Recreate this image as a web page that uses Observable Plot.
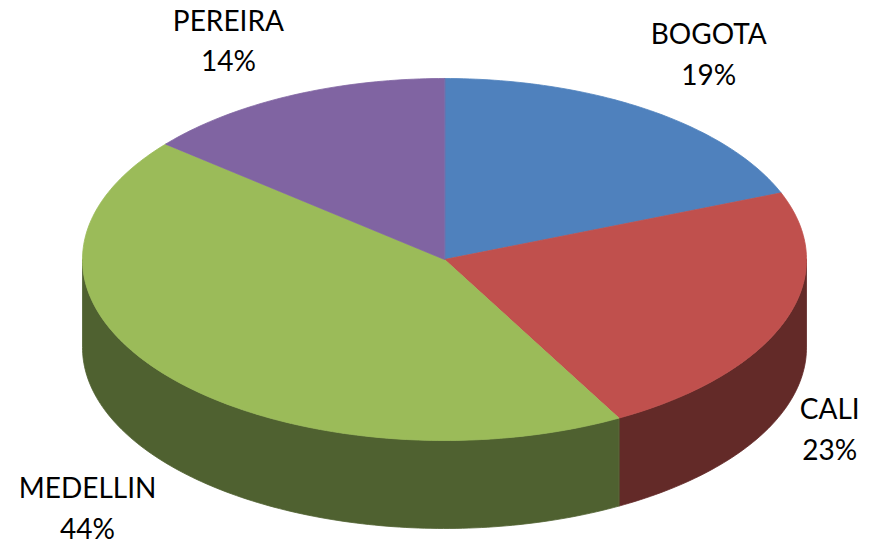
<!DOCTYPE html>
<html><head><meta charset="utf-8">
<script src="https://cdn.jsdelivr.net/npm/d3@7"></script>
<script src="https://cdn.jsdelivr.net/npm/@observablehq/plot@0.6"></script>
<style>body{margin:0;background:#fff}</style>
</head><body><div id="chart"></div>
<script>
// Data
const cities = ["BOGOTA", "CALI", "MEDELLIN", "PEREIRA"];
const shares = [19, 23, 44, 14];
const topColors = ["#4F81BD", "#C0504D", "#9BBB59", "#8064A2"];
const sideColors = ["#2C4D75", "#632A28", "#4F6130", "#4D3B62"];

// Layout (chart units: ellipse radius = 1 on each axis)
const labelU = [0.73, 1.064, -0.986, -0.597];
const labelV = [1.152, -0.92, -1.36, 1.224];

const W = 871, H = 545, CX = 444, CY = 259, RX = 362, RY = 181;
const DEPTH = 88 / RY;
const total = d3.sum(shares);
const rad = d => d * Math.PI / 180;

const topRows = [], sideRows = [];
let start = 0;
shares.forEach((s, i) => {
  const a0 = start, a1 = start + s / total * 360;
  start = a1;
  const key = cities[i];
  topRows.push({key, u: 0, v: 0, color: topColors[i]});
  const n = Math.max(2, Math.ceil(a1 - a0));
  for (let k = 0; k <= n; k++) {
    const t = rad(a0 + (a1 - a0) * k / n);
    topRows.push({key, u: Math.sin(t), v: Math.cos(t), color: topColors[i]});
  }
  // visible side wall: between 90° and 270°
  const b0 = Math.max(a0, 90), b1 = Math.min(a1, 270);
  if (b1 > b0) {
    const m = Math.max(2, Math.ceil(b1 - b0));
    const upper = [], lower = [];
    for (let k = 0; k <= m; k++) {
      const t = rad(b0 + (b1 - b0) * k / m);
      upper.push({key, u: Math.sin(t), v: Math.cos(t), color: sideColors[i]});
      lower.push({key, u: Math.sin(t), v: Math.cos(t) - DEPTH, color: sideColors[i]});
    }
    sideRows.push(...upper, ...lower.reverse());
  }
});

const labels = cities.map((c, i) => ({text: `${c}\n${shares[i]}%`, u: labelU[i], v: labelV[i]}));

const chart = Plot.plot({
  width: W, height: H, margin: 0,
  style: {background: "#fff"},
  x: {domain: [-CX / RX, (W - CX) / RX], axis: null},
  y: {domain: [(CY - H) / RY, CY / RY], axis: null},
  color: {type: "identity"},
  marks: [
    Plot.line(sideRows, {x: "u", y: "v", z: "key", fill: "color", stroke: "color", strokeWidth: 0.8, curve: "linear-closed"}),
    Plot.line(topRows, {x: "u", y: "v", z: "key", fill: "color", stroke: "color", strokeWidth: 0.8, curve: "linear-closed"}),
    Plot.text(labels, {x: "u", y: "v", text: "text", fontSize: 28, lineHeight: 1.46, fontFamily: "Lato", fill: "#000", lineAnchor: "middle"})
  ]
});
document.getElementById("chart").append(chart);
</script>
</body></html>
